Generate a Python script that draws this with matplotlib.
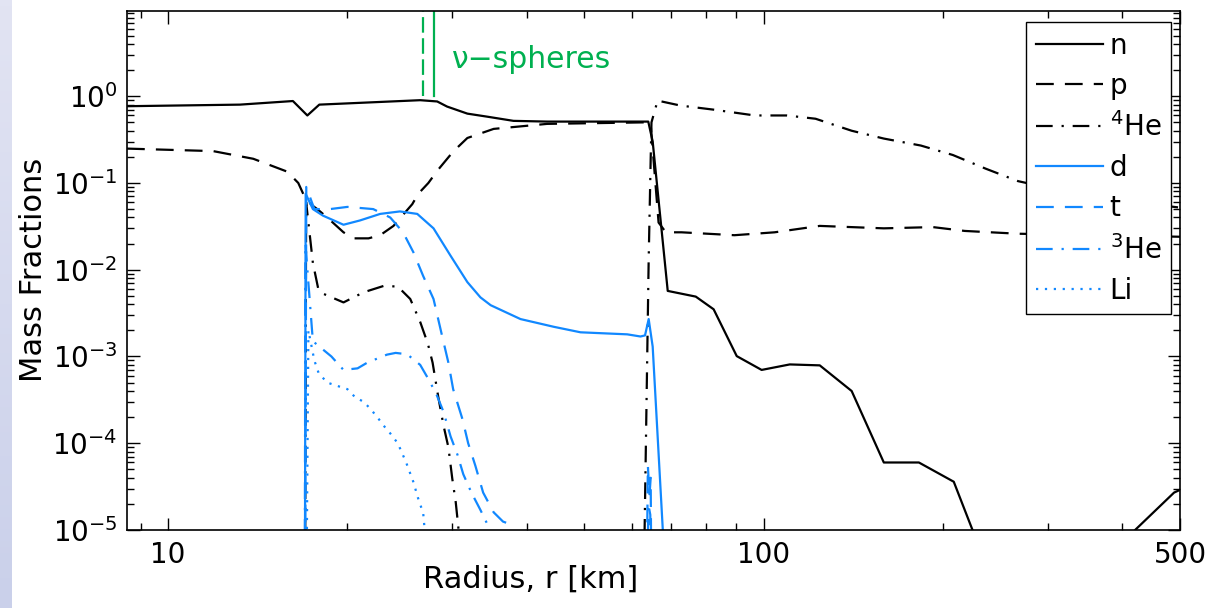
import numpy as np
import matplotlib
matplotlib.use("Agg")
import matplotlib.pyplot as plt
from matplotlib.ticker import LogLocator, NullFormatter, FixedLocator, FixedFormatter

plt.rcParams['font.family'] = ['DejaVu Sans']
plt.rcParams['mathtext.default'] = 'regular'

# radius [km] and mass fractions
r_n = [8.53, 13.2, 16.2, 17.13, 17.94, 26.5, 28.3, 29.4, 31.8, 34.4, 38.0, 43.3, 64.0, 65.1,
       69.0, 76.9, 82.4, 90.1, 99.2, 110.6, 124.2, 140.5, 159.1, 182.2, 208.5, 240, 360, 420.3,
       488.7, 500]
x_n = [0.767, 0.80, 0.88, 0.60, 0.80, 0.90, 0.87, 0.76, 0.63, 0.58, 0.52, 0.51, 0.51, 0.30,
       0.0057, 0.0049, 0.0035, 0.00101, 0.0007, 0.00081, 0.00079, 0.0004, 6.0e-5, 6.0e-5,
       3.6e-5, 3e-6, 2e-6, 1e-5, 2.7e-5, 2.9e-5]

r_p = [8.53, 11.9, 13.9, 15.85, 16.54, 17.0, 17.46, 17.8, 18.5, 19.7, 20.5, 21.7, 22.7, 23.9,
       24.5, 25.7, 26.3, 27.35, 28.3, 30.1, 31.8, 35.2, 43.3, 63.8, 64.6, 66.6, 68.5, 72.8,
       89.3, 104.3, 124.2, 159.1, 192.3, 217.6, 267.3, 500]
x_p = [0.249, 0.233, 0.19, 0.135, 0.10, 0.066, 0.055, 0.05, 0.04, 0.027, 0.023, 0.023, 0.025,
       0.032, 0.039, 0.057, 0.075, 0.10, 0.138, 0.23, 0.33, 0.42, 0.48, 0.50, 0.48, 0.035,
       0.027, 0.027, 0.025, 0.027, 0.032, 0.030, 0.031, 0.028, 0.026, 0.024]

r_he4 = [16.93, 17.05, 17.5, 17.87, 18.2, 19.7, 21.3, 23.0, 24.3, 25.5, 26.5, 27.3, 27.8, 28.4,
         29.0, 29.55, 30.0, 30.4, 30.7, 31.0, 31.5, 62.9, 63.1, 64.1, 64.6, 64.8, 66.35, 72.5,
         82.4, 96.6, 109.3, 122.2, 140.5, 159.1, 183.6, 207.8, 236, 267.3, 350, 500]
x_he4 = [1e-9, 0.06, 0.012, 0.006, 0.0053, 0.0042, 0.0055, 0.0065, 0.0064, 0.0046, 0.0025,
         0.0014, 0.00085, 0.00035, 0.00016, 9e-5, 3.9e-5, 2.1e-5, 1.1e-5, 5e-6, 1e-9, 1e-9,
         1e-5, 0.013, 0.19, 0.5, 0.89, 0.78, 0.70, 0.60, 0.60, 0.55, 0.40, 0.325, 0.27, 0.21,
         0.146, 0.105, 0.07, 0.052]

r_d = [16.93, 17.02, 17.5, 18.2, 19.7, 21.0, 22.7, 24.5, 26.2, 27.9, 29.8, 31.8, 33.45, 34.8,
       39.05, 44.4, 49.25, 59.0, 62.1, 63.2, 64.1, 65.1, 67.7, 68.3]
x_d = [1e-9, 0.075, 0.05, 0.042, 0.033, 0.037, 0.044, 0.047, 0.044, 0.030, 0.0145, 0.0072,
       0.0048, 0.0039, 0.0027, 0.0022, 0.0019, 0.0018, 0.0017, 0.00175, 0.0027, 0.0013, 1e-5,
       1e-9]

r_t = [16.93, 17.06, 17.6, 18.7, 20.0, 22.1, 23.6, 24.8, 25.8, 26.8, 27.9, 28.8, 29.55, 30.1,
       31.2, 31.9, 32.8, 33.8, 35.2, 36.5, 37.1, 37.8, 62.9, 63.9, 64.3, 64.6, 65.2]
x_t = [1e-9, 0.09, 0.05, 0.05, 0.053, 0.05, 0.04, 0.027, 0.016, 0.0085, 0.0046, 0.0018,
       0.00085, 0.00042, 0.00019, 0.0001, 5.5e-5, 2.7e-5, 1.6e-5, 1.25e-5, 1.2e-5, 6e-6,
       1e-9, 5.5e-5, 2.5e-5, 4e-5, 1e-9]

r_he3 = [16.93, 17.0, 17.5, 18.8, 19.7, 20.8, 21.6, 23.3, 24.1, 25.2, 26.5, 27.35, 28.2, 29.0,
         29.8, 30.6, 31.3, 32.3, 33.45, 34.5, 35.3, 63.1, 64.0, 64.5, 65.0]
x_he3 = [1e-9, 0.02, 0.0015, 0.001, 0.0007, 0.00073, 0.00085, 0.00105, 0.0011, 0.00106, 0.0008,
         0.00055, 0.00037, 0.00023, 0.00012, 7.4e-5, 4.4e-5, 2.7e-5, 1.7e-5, 1.1e-5, 6e-6,
         1e-9, 2e-5, 1.5e-5, 1e-9]

r_li = [16.93, 17.2, 17.6, 17.9, 18.5, 19.2, 20.0, 20.6, 21.3, 21.85, 22.45, 23.0, 23.6, 24.3,
        25.1, 25.8, 26.4, 26.8, 26.9, 27.2]
x_li = [1e-9, 0.002, 0.0009, 0.00064, 0.0005, 0.00046, 0.00042, 0.00034, 0.0003, 0.00025,
        0.0002, 0.00016, 0.00013, 0.0001, 6e-5, 3.6e-5, 2.1e-5, 1.6e-5, 1.2e-5, 5e-6]

# neutrinosphere radii
r_sph_dash = 26.8
r_sph_solid = 28.0

blue = '#1188FF'
green = '#00B050'

fig = plt.figure(figsize=(12.28, 6.08), dpi=100)

# slide background strip on the left
bg = fig.add_axes([0, 0, 12 / 1228, 1])
grad = np.linspace(0, 1, 100)[:, None]
top_c = np.array([226, 228, 243]) / 255
bot_c = np.array([202, 208, 234]) / 255
img = top_c[None, None, :] * (1 - grad[:, :, None]) + bot_c[None, None, :] * grad[:, :, None]
bg.imshow(img, aspect='auto', extent=[0, 1, 0, 1])
bg.axis('off')

ax = fig.add_axes([127 / 1228, 1 - 530 / 608, (1180 - 127) / 1228, (530 - 11) / 608])

lw = 1.6
dash = (0, (8, 5))
dashdot = (0, (7.5, 4, 1, 4))
dot = (0, (1, 3))
ax.plot(r_n, x_n, color='k', lw=lw, ls='-', label='n')
ax.plot(r_p, x_p, color='k', lw=lw, ls=dash, label='p')
ax.plot(r_he4, x_he4, color='k', lw=lw, ls=dashdot, label='$^4$He')
ax.plot(r_d, x_d, color=blue, lw=lw, ls='-', label='d')
ax.plot(r_t, x_t, color=blue, lw=lw, ls=dash, label='t')
ax.plot(r_he3, x_he3, color=blue, lw=lw, ls=dashdot, label='$^3$He')
ax.plot(r_li, x_li, color=blue, lw=lw, ls=dot, label='Li')

ax.plot([r_sph_dash, r_sph_dash], [1.0, 20], color=green, lw=1.6, ls=(0, (7, 2.5)))
ax.plot([r_sph_solid, r_sph_solid], [1.0, 20], color=green, lw=1.6)
ax.text(30.0, 2.14, 'ν−spheres', color=green, fontsize=21.5, ha='left', va='baseline')

ax.set_xscale('log')
ax.set_yscale('log')
ax.set_xlim(8.53, 500)
ax.set_ylim(1e-5, 9.6)

ax.xaxis.set_major_locator(FixedLocator([10, 100, 500]))
ax.xaxis.set_major_formatter(FixedFormatter(['10', '100', '500']))
ax.xaxis.set_minor_locator(LogLocator(base=10, subs=np.arange(2, 10)))
ax.xaxis.set_minor_formatter(NullFormatter())
ax.yaxis.set_major_locator(FixedLocator([1e-5, 1e-4, 1e-3, 1e-2, 1e-1, 1e0]))
ax.yaxis.set_minor_locator(LogLocator(base=10, subs=np.arange(2, 10), numticks=20))
ax.yaxis.set_minor_formatter(NullFormatter())

ax.tick_params(which='both', direction='in', top=True, right=True, width=1)
ax.tick_params(which='major', length=9, labelsize=20)
ax.tick_params(which='minor', length=5)
ax.tick_params(axis='x', which='major', pad=8)
ax.tick_params(axis='y', which='major', pad=7)
for s in ax.spines.values():
    s.set_linewidth(1.2)

ax.set_xlabel('Radius, r [km]', fontsize=22)
ax.set_ylabel('Mass Fractions', fontsize=22)
ax.xaxis.set_label_coords(0.383, -0.067)
ax.yaxis.set_label_coords(-0.075, 0.501)

leg = ax.legend(loc='upper right', bbox_to_anchor=(0.9915, 0.979), borderaxespad=0,
                fontsize=20, handlelength=2.4, handletextpad=0.25, labelspacing=0.44,
                borderpad=0.35, fancybox=False, framealpha=1, edgecolor='k')
leg.get_frame().set_linewidth(1.0)

fig.savefig('out.png', dpi=100)
